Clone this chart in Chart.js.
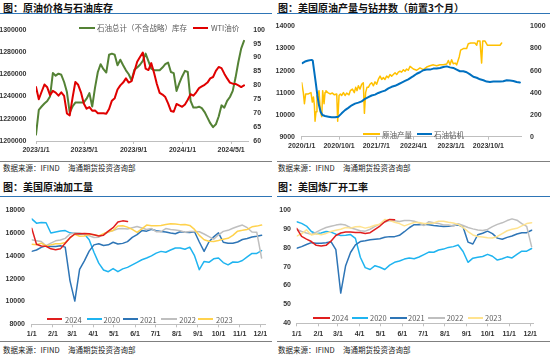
<!DOCTYPE html>
<html><head><meta charset="utf-8">
<script src="https://cdn.jsdelivr.net/npm/chart.js@4.4.1/dist/chart.umd.min.js"></script>
<style>
body{margin:0;width:550px;height:359px;position:relative;background:#fff;overflow:hidden;font-family:"Noto Sans CJK SC","Liberation Sans",sans-serif;}
.t{position:absolute;font-weight:bold;font-size:10px;line-height:10px;color:#111;white-space:nowrap;}
.rule{position:absolute;height:1.5px;background:#2E75B6;}
.brule{position:absolute;height:1px;background:#808080;}
.src{position:absolute;font-size:7.5px;line-height:9px;color:#222;white-space:nowrap;}
canvas{position:absolute;}
.ls{position:absolute;height:2px;}
.lt{position:absolute;font-size:7.5px;line-height:9px;color:#595959;white-space:nowrap;}
</style></head>
<body>
<div class="t" style="left:3px;top:2.5px">图：原油价格与石油库存</div>
<div class="t" style="left:278px;top:2.5px">图：美国原油产量与钻井数（前置3个月）</div>
<div class="t" style="left:3px;top:182px">图：美国原油加工量</div>
<div class="t" style="left:278px;top:182px">图：美国炼厂开工率</div>
<div class="rule" style="left:0;top:12.6px;width:272px"></div>
<div class="rule" style="left:277px;top:12.6px;width:273px"></div>
<div class="rule" style="left:0;top:195.5px;width:272px"></div>
<div class="rule" style="left:277px;top:195.5px;width:273px"></div>
<div class="brule" style="left:0;top:160.5px;width:272px"></div>
<div class="brule" style="left:277px;top:160.5px;width:273px"></div>
<div class="brule" style="left:0;top:341px;width:272px"></div>
<div class="brule" style="left:277px;top:341px;width:273px"></div>
<div class="src" style="left:3px;top:163px">数据来源：IFIND</div><div class="src" style="left:68px;top:163px">海通期货投资咨询部</div>
<div class="src" style="left:278px;top:163px">数据来源：IFIND</div><div class="src" style="left:343px;top:163px">海通期货投资咨询部</div>
<div class="src" style="left:3px;top:345px">数据来源：IFIND</div><div class="src" style="left:68px;top:345px">海通期货投资咨询部</div>
<div class="src" style="left:278px;top:345px">数据来源：IFIND</div><div class="src" style="left:343px;top:345px">海通期货投资咨询部</div>
<canvas id="c1"></canvas><canvas id="c2"></canvas><canvas id="c3"></canvas><canvas id="c4"></canvas>
<script>
// ---------- Panel 1 data (weekly, day = 7*i from 2023/1/1) ----------
const p1TickDays = [0,120,243,365,486];
const p1TickLabels = ['2023/1/1','2023/5/1','2023/9/1','2024/1/1','2024/5/1'];
const p1Inventory = [1205800,1228000,1231000,1233700,1236000,1240000,1261000,1258700,1260500,1259500,
 1253000,1244000,1225500,1231000,1234500,1234700,1234500,1234700,1238000,1243000,
 1231000,1248000,1262000,1269000,1264500,1261500,1277500,1278500,1277500,1268000,
 1273000,1268000,1263500,1260000,1254500,1264000,1266000,1268500,1272000,1278500,
 1271700,1265000,1263600,1263600,1263600,1266000,1269000,1270500,1262000,1261000,
 1245000,1252000,1258000,1263000,1262000,1236000,1230000,1230000,1230800,1229500,
 1226000,1221000,1216000,1212500,1215000,1222000,1232000,1230000,1236000,1239500,
 1245000,1257000,1271000,1283000,1290000];
const p1WTI = [79.4,75.0,77.7,80.3,79.3,76.5,78.0,77.4,76.3,77.5,
 76.2,69.9,69.2,75.5,81.2,80.2,77.5,73.5,71.6,72.2,
 70.9,71.0,70.0,70.0,70.0,69.8,71.5,74.5,75.4,78.5,
 80.0,81.0,82.5,81.0,81.5,85.0,88.5,90.2,91.8,86.0,
 85.5,88.0,84.5,80.5,77.3,76.7,75.8,73.5,70.8,70.5,
 73.3,72.8,72.3,73.1,74.8,76.8,76.3,77.5,79.0,79.6,
 80.2,81.0,82.5,83.0,85.2,86.6,86.2,84.2,82.5,81.0,
 80.6,80.5,80.0,79.4,80.0];

// ---------- Panel 2 data (days from 2020/1/1) ----------
const p2TickDays = [0,274,547,821,1096,1369];
const p2TickLabels = ['2020/1/1','2020/10/1','2021/7/1','2022/4/1','2023/1/1','2023/10/1'];
const p2ProdDays = [0,12,20,29,49,68,78,86,93,98,105,112,117,127,137,147,154,164,171,178,191,208,225,240,257,264,274,284,293,306,318,330,347,357,372,386,396,406,416,428,440,452,460,469,479,489,501,513,526,538,550,562,575,587,599,611,623,636,648,660,672,685,697,709,721,733,746,758,770,782,795,819,844,868,892,917,941,966,990,1015,1039,1064,1076,1088,1100,1112,1125,1137,1156,1166,1186,1210,1222,1240,1271,1284,1291,1308,1320,1328,1345,1362,1381,1418,1455,1467];
const p2Prod = [11450,11000,10500,10940,10940,11000,10570,10800,10430,9700,10130,10870,10720,11090,10130,9910,11090,10500,11000,11090,11000,10940,10980,10900,10940,9700,10870,10940,10870,11000,10870,10980,10900,11090,11160,11000,11240,11090,11310,11160,11380,11450,10060,11000,11240,11240,11380,11450,11310,11490,11380,11600,11750,11600,11680,11600,11750,11680,11820,11750,11820,11900,11820,11930,11970,11930,12040,11970,12070,12015,12190,12070,12015,12120,12040,12160,12220,12260,12220,12260,12260,12300,12460,12260,12490,12310,12340,12260,12630,12930,13000,13000,13220,13250,13250,13150,13340,13340,12340,13340,13340,13150,13150,13150,13150,13250];
const p2RigDays = [5,24,49,73,81,90,103,115,127,139,152,171,196,220,244,269,293,318,342,367,391,416,440,465,489,513,538,562,587,611,636,660,685,709,733,758,782,807,819,844,868,892,917,941,966,990,1015,1039,1064,1088,1112,1137,1161,1186,1210,1235,1259,1284,1308,1333,1357,1381,1406,1430,1455,1479,1504,1528,1553,1577,1601];
const p2Rigs = [668,682,691,697,691,609,491,374,285,226,197,188,182,176,176,182,212,241,262,285,300,309,321,344,359,374,382,397,409,418,438,453,462,476,491,506,521,541,550,571,585,603,609,609,618,618,624,632,638,629,624,609,594,594,585,565,544,535,521,512,500,497,500,500,500,503,512,509,506,497,491];

// ---------- Panels 3 & 4 (weekly, day-of-year = 7*i) ----------
const monthDays = [0,31,59,90,120,151,181,212,243,273,304,334];
const monthLabels = ['1/1','2/1','3/1','4/1','5/1','6/1','7/1','8/1','9/1','10/1','11/1','12/1'];
const seasonNames = ['2024','2020','2021','2022','2023'];
const seasonColors = ['#E01E1E','#1FB4F0','#2E75B6','#BFBFBF','#FFD24D'];
const seasonColors4 = ['#E01E1E','#1FB4F0','#2E75B6','#BFBFBF','#FFE38F'];

const p3_2024 = [16400,15000,14850,14830,14600,14530,14600,15100,15580,15900,15930,15950,15920,15840,15720,15800,16150,16450,16950,17050,16990];
const p3_2020 = [17220,16850,16900,16880,15990,16080,16160,16200,16000,15950,15900,15900,15400,14300,13350,12750,12600,12870,12600,12850,12980,13200,13420,13650,13800,13990,14230,14380,14300,14500,14670,14670,14570,14750,14000,12780,13500,13420,13730,13800,13400,13200,13450,13420,13580,13900,14200,14200,14450];
const p3_2021 = [14380,14500,14730,14860,14810,14810,14880,14750,11800,10030,12800,13550,14400,14950,15050,14900,14950,15180,15020,15080,15230,15600,15850,16200,16150,16320,16180,16120,16070,15990,15920,16100,16050,16030,16100,15200,14380,15200,15650,16000,15180,15100,15100,15200,15420,15500,15640,15700,15800];
const p3_2022 = [15390,15300,15250,14870,15100,15300,15380,15520,15900,16010,15980,15850,15750,15600,15620,15900,16080,16200,16350,16380,16330,16450,16550,16420,16300,16380,16100,16100,16380,16300,16240,16180,16050,16120,16120,16100,15900,15670,15450,15830,16130,16220,16400,16560,16680,16450,16080,16050,13800];
const p3_2023 = [15000,14960,15100,14850,14950,15040,15040,15150,15550,15880,15700,15730,15880,15830,15740,15930,16100,16200,16600,16630,16500,16300,16050,16350,16680,16620,16620,16640,16730,16800,16780,16720,16730,16650,16300,15780,15400,15260,15250,15340,15450,15520,15780,16150,16220,16300,16530,16590,16680];

const p4_2024 = [90.3,86.0,84.6,83.3,81.3,80.9,81.3,83.5,86.5,87.8,88.3,88.3,88.1,88.1,87.6,88.0,89.8,91.5,93.8,95.0,94.8];
const p4_2020 = [93.8,92.9,91.5,88.6,87.4,87.8,88.6,88.3,87.2,86.5,86.6,87.0,85.0,75.0,69.5,68.5,70.5,69.7,68.5,70.8,72.3,73.0,74.0,74.6,74.2,75.1,76.4,77.7,77.6,78.8,79.3,80.2,80.6,81.5,78.0,72.3,74.5,75.0,75.4,76.5,75.5,73.5,74.2,75.2,74.6,76.5,78.2,78.2,79.6];
const p4_2021 = [79.7,80.6,81.7,82.7,82.4,82.4,82.7,83.2,79.0,56.0,70.5,77.5,81.5,83.3,83.7,84.2,84.5,84.8,85.6,85.9,85.9,86.6,88.5,90.6,92.2,92.2,92.5,92.2,91.8,91.5,91.3,91.4,91.8,92.1,91.0,83.0,82.0,86.9,87.7,88.8,87.5,85.1,84.5,85.5,86.2,87.3,88.0,88.0,89.3];
const p4_2022 = [89.8,88.6,87.8,87.1,88.3,89.6,90.7,91.4,92.0,92.5,92.0,90.6,89.8,89.0,88.8,89.8,91.3,92.5,93.6,94.4,94.3,93.9,94.4,94.5,94.0,93.1,91.8,93.8,93.3,92.9,92.1,92.1,91.5,92.7,91.8,90.7,90.0,89.4,89.1,89.7,91.2,92.4,93.2,94.4,95.3,94.6,92.8,91.3,80.6];
const p4_2023 = [86.2,87.4,89.5,86.8,87.4,86.9,87.6,88.6,89.3,89.8,90.7,90.4,91.1,91.2,90.4,91.0,91.9,92.5,95.0,94.6,93.5,92.8,91.6,92.5,93.4,93.4,92.8,92.8,93.1,94.1,94.0,93.5,93.1,92.4,90.8,88.6,86.8,86.0,85.7,85.3,85.2,86.0,87.5,89.0,89.8,90.3,91.6,92.8,93.3];

// ---------- helpers ----------
Chart.defaults.font.family = '"Liberation Sans", Arial, sans-serif';
Chart.defaults.font.size = 7;
Chart.defaults.font.weight = 'bold';
Chart.defaults.color = '#333';
const weekly = arr => arr.map((v,i)=>({x:7*i, y:v}));
const paired = (xs, ys) => xs.map((x,i)=>({x, y:ys[i]}));
const AXIS = '#BFBFBF';

function build(id, box, area, xc, yl, yr, datasets){
  const cv = document.getElementById(id);
  cv.width = box.w; cv.height = box.h;
  cv.style.left = box.l+'px'; cv.style.top = box.t+'px';
  cv.style.width = box.w+'px'; cv.style.height = box.h+'px';
  const scales = {
    x: {type:'linear', min:xc.min, max:xc.max,
      afterBuildTicks: s => { s.ticks = xc.ticks.map(v=>({value:v})); },
      afterFit: s => { s.height = box.t + box.h - area.b; },
      ticks:{autoSkip:false, maxRotation:0, minRotation:0, padding:xc.pad, callback:(v,i)=>xc.labels[i]},
      grid:{display:true, drawOnChartArea:false, drawTicks:true, tickLength:3, color:AXIS},
      border:{display:true, color:AXIS}
    },
    y: {type:'linear', position:'left', min:yl.min, max:yl.max,
      afterFit: s => { s.width = area.l - box.l; },
      ticks:{stepSize:yl.step, padding:yl.pad, callback:v=>String(v)},
      grid:{display:false, drawTicks:false}, border:{display:false}
    }
  };
  if (yr) scales.y2 = {type:'linear', position:'right', min:yr.min, max:yr.max,
      afterFit: s => { s.width = box.l + box.w - area.r; },
      ticks:{stepSize:yr.step, padding:yr.pad, callback:v=>String(v)},
      grid:{display:false, drawTicks:false}, border:{display:false}};
  return new Chart(cv, {type:'line', data:{datasets},
    options:{responsive:false, animation:false, devicePixelRatio:1,
      layout:{padding:{left:0, bottom:0, top:area.t - box.t, right: yr ? 0 : (box.l + box.w - area.r)}},
      plugins:{legend:{display:false}, tooltip:{enabled:false}},
      elements:{point:{radius:0}, line:{tension:0, borderCapStyle:'round', borderJoinStyle:'round'}},
      scales}});
}
function legend(items, y){
  items.forEach(([sl, sw, c, tl, txt])=>{
    const s=document.createElement('div'); s.className='ls';
    s.style.left=sl+'px'; s.style.top=(y-1)+'px'; s.style.width=sw+'px'; s.style.background=c;
    document.body.appendChild(s);
    const t=document.createElement('div'); t.className='lt';
    t.style.left=tl+'px'; t.style.top=(y-4.7)+'px'; t.textContent=txt;
    document.body.appendChild(t);
  });
}

// ---------- Panel 1 ----------
build('c1', {l:0,t:16,w:275,h:144}, {l:36,r:248,t:25.7,b:141},
  {min:0,max:528,ticks:p1TickDays,labels:p1TickLabels,pad:2},
  {min:1200000,max:1300000,step:20000,pad:9.5},
  {min:60,max:100,step:5,pad:5.3},
  [
   {data:weekly(p1WTI), yAxisID:'y2', borderColor:'#E00000', borderWidth:2},
   {data:weekly(p1Inventory), yAxisID:'y', borderColor:'#548235', borderWidth:2}
  ]);
legend([[79,16,'#548235',97,'石油总计（不含战略）库存'],[193,15,'#E00000',211,'WTI油价']], 27.7);

// ---------- Panel 2 ----------
build('c2', {l:275,t:14,w:275,h:146}, {l:301.7,r:521.7,t:23.3,b:136.7},
  {min:0,max:1614,ticks:p2TickDays,labels:p2TickLabels,pad:2.5},
  {min:9000,max:14000,step:1000,pad:6.7},
  {min:0,max:1000,step:200,pad:8.3},
  [
   {data:paired(p2RigDays,p2Rigs), yAxisID:'y2', borderColor:'#0070C0', borderWidth:2},
   {data:paired(p2ProdDays,p2Prod), yAxisID:'y', borderColor:'#FFC000', borderWidth:1.5}
  ]);
legend([[363,17,'#FFC000',382,'原油产量'],[417,15,'#0070C0',434,'石油钻机']], 134.3);

// ---------- Panel 3 ----------
const p3Series = [p3_2024,p3_2020,p3_2021,p3_2022,p3_2023];
const ord = [0,4,3,2,1];
build('c3', {l:0,t:199,w:275,h:141}, {l:31.7,r:265,t:210,b:324.3},
  {min:0,max:341,ticks:monthDays,labels:monthLabels,pad:3},
  {min:8000,max:18000,step:2000,pad:6.7}, null,
  p3Series.map((s,k)=>({data:weekly(s), yAxisID:'y', borderColor:seasonColors[k], borderWidth:1.5, order:ord[k]})));
legend([[46.7,15,seasonColors[0],65,'2024'],[86.7,15,seasonColors[1],103.5,'2020'],[122.7,15,seasonColors[2],140,'2021'],[160.7,16,seasonColors[3],179.3,'2022'],[198.3,15,seasonColors[4],216,'2023']], 319.3);

// ---------- Panel 4 ----------
const p4Series = [p4_2024,p4_2020,p4_2021,p4_2022,p4_2023];
build('c4', {l:275,t:199,w:275,h:141}, {l:296.7,r:533,t:210,b:323.3},
  {min:0,max:338,ticks:monthDays,labels:monthLabels,pad:4},
  {min:40,max:100,step:10,pad:5.7}, null,
  p4Series.map((s,k)=>({data:weekly(s), yAxisID:'y', borderColor:seasonColors4[k], borderWidth:1.5, order:ord[k]})));
legend([[313.3,16.7,seasonColors4[0],331.7,'2024'],[351.7,16.7,seasonColors4[1],370,'2020'],[390,16.7,seasonColors4[2],408,'2021'],[428.3,16.7,seasonColors4[3],446.7,'2022'],[467.7,15.6,seasonColors4[4],485,'2023']], 318);
</script>
</body></html>
